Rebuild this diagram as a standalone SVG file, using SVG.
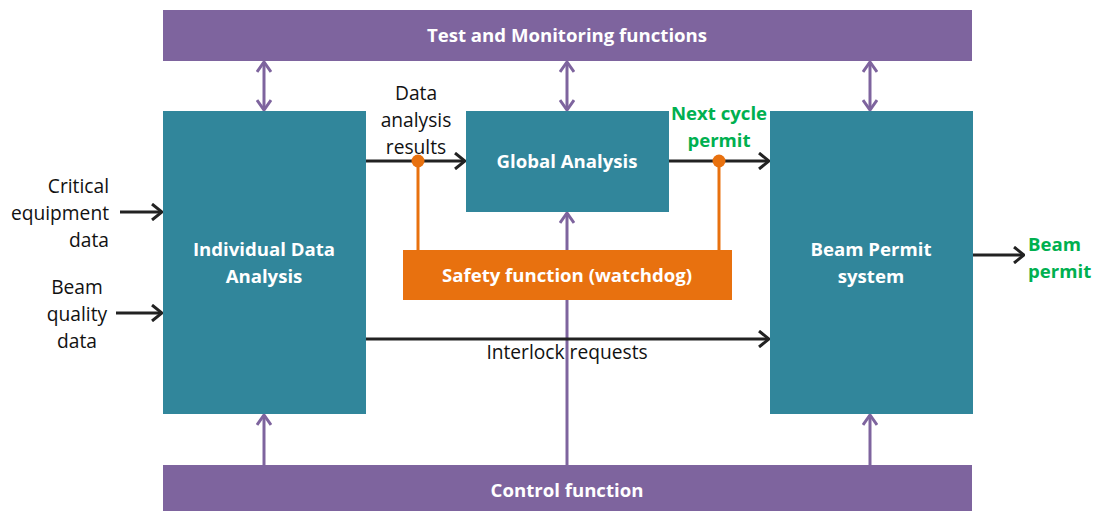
<svg xmlns="http://www.w3.org/2000/svg" width="1098" height="511" viewBox="0 0 1098 511">
<style>
.bar{fill:#7E649E}
.box{fill:#31869B}
.safe{fill:#E8710F}
.wt{font-family:"Open Sans","Liberation Sans",sans-serif;font-weight:bold;font-size:18.6px;fill:#fff;text-anchor:middle}
.lbl{font-family:"Open Sans","Liberation Sans",sans-serif;font-size:19.2px;fill:#111;text-anchor:middle}
.grn{font-family:"Open Sans","Liberation Sans",sans-serif;font-weight:bold;font-size:18.6px;fill:#00B050;text-anchor:middle}
.pl{stroke:#7E649E;stroke-width:3;fill:none}
.bl{stroke:#222;stroke-width:3;fill:none}
.ol{stroke:#E8710F;stroke-width:3;fill:none}
</style>
<defs>
<marker id="ap" viewBox="0 0 12 16" refX="11" refY="8" markerWidth="12" markerHeight="16" markerUnits="userSpaceOnUse" orient="auto-start-reverse">
<path d="M1,1 L11,8 L1,15" fill="none" stroke="#7E649E" stroke-width="3"/>
</marker>
<marker id="ab" viewBox="0 0 12 18" refX="11" refY="9" markerWidth="12" markerHeight="18" markerUnits="userSpaceOnUse" orient="auto">
<path d="M1,1 L11,9 L1,17" fill="none" stroke="#222" stroke-width="3"/>
</marker>
</defs>
<g id="connectors">
<line class="pl" x1="264" y1="62" x2="264" y2="110" marker-start="url(#ap)" marker-end="url(#ap)"/>
<line class="pl" x1="567" y1="62" x2="567" y2="110" marker-start="url(#ap)" marker-end="url(#ap)"/>
<line class="pl" x1="870" y1="62" x2="870" y2="110" marker-start="url(#ap)" marker-end="url(#ap)"/>
<line class="pl" x1="264" y1="465" x2="264" y2="415" marker-end="url(#ap)"/>
<line class="pl" x1="870" y1="465" x2="870" y2="415" marker-end="url(#ap)"/>
<line class="pl" x1="567" y1="465" x2="567" y2="213" marker-end="url(#ap)"/>
<line class="bl" x1="366" y1="161" x2="465" y2="161" marker-end="url(#ab)"/>
<line class="bl" x1="669" y1="161" x2="769" y2="161" marker-end="url(#ab)"/>
<line class="bl" x1="120" y1="212" x2="162" y2="212" marker-end="url(#ab)"/>
<line class="bl" x1="116" y1="313" x2="162" y2="313" marker-end="url(#ab)"/>
<line class="bl" x1="366" y1="339" x2="769" y2="339" marker-end="url(#ab)"/>
<line class="bl" x1="973" y1="255" x2="1024" y2="255" marker-end="url(#ab)"/>
<line class="ol" x1="418" y1="161" x2="418" y2="250"/>
<line class="ol" x1="719" y1="161" x2="719" y2="250"/>
<circle cx="418" cy="161" r="6.5" fill="#E8710F"/>
<circle cx="719" cy="161" r="6.5" fill="#E8710F"/>
</g>
<g id="test-monitoring">
<rect class="bar" x="163" y="10" width="809" height="51"/>
<text class="wt" x="567" y="42">Test and Monitoring functions</text>
</g>
<g id="control-function">
<rect class="bar" x="163" y="465" width="809" height="46"/>
<text class="wt" x="567" y="497">Control function</text>
</g>
<g id="individual-data-analysis">
<rect class="box" x="163" y="111" width="203" height="303"/>
<text class="wt" x="264" y="256">Individual Data</text>
<text class="wt" x="264" y="283">Analysis</text>
</g>
<g id="global-analysis">
<rect class="box" x="466" y="111" width="203" height="101"/>
<text class="wt" x="567" y="168">Global Analysis</text>
</g>
<g id="beam-permit-system">
<rect class="box" x="770" y="111" width="203" height="303"/>
<text class="wt" x="871" y="256">Beam Permit</text>
<text class="wt" x="871" y="283">system</text>
</g>
<g id="safety-function">
<rect class="safe" x="403" y="250" width="329" height="50"/>
<text class="wt" x="567" y="282">Safety function (watchdog)</text>
</g>
<g id="labels">
<text class="lbl" x="416" y="100">Data</text>
<text class="lbl" x="416" y="127">analysis</text>
<text class="lbl" x="416" y="154">results</text>
<text class="grn" x="719" y="120">Next cycle</text>
<text class="grn" x="719" y="147">permit</text>
<text class="lbl" x="109" y="193" style="text-anchor:end">Critical</text>
<text class="lbl" x="109" y="220" style="text-anchor:end">equipment</text>
<text class="lbl" x="109" y="247" style="text-anchor:end">data</text>
<text class="lbl" x="77" y="294">Beam</text>
<text class="lbl" x="77" y="321">quality</text>
<text class="lbl" x="77" y="348">data</text>
<text class="grn" x="1028" y="251" style="text-anchor:start">Beam</text>
<text class="grn" x="1028" y="278" style="text-anchor:start">permit</text>
<text class="lbl" x="567" y="359">Interlock requests</text>
</g>
</svg>
